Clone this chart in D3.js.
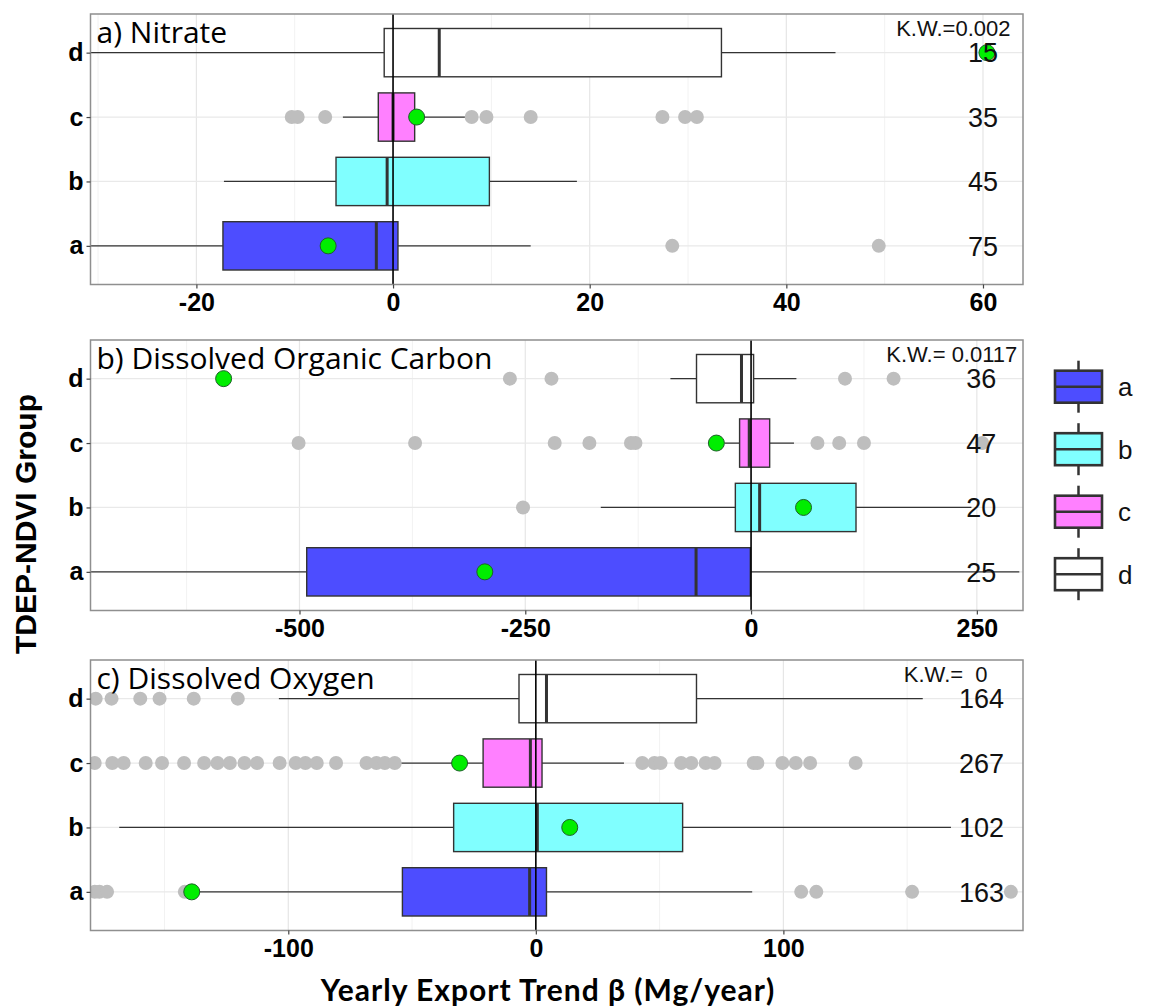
<!DOCTYPE html>
<html>
<head>
<meta charset="utf-8">
<script src="https://cdn.jsdelivr.net/npm/d3@7"></script>
<style>
  body { margin: 0; background: #fff; }
  svg { display: block; }
  .axis .domain { display: none; }
  .axis .tick line { stroke: #444; stroke-width: 1.2; }
  .axis .tick text { font-family: "Liberation Sans", Arial, sans-serif; font-weight: bold; font-size: 25px; fill: #000; }
</style>
</head>
<body>
<script>
const WIDTH = 1149;
const HEIGHT = 1007;
const PLOT_LEFT = 90.5;
const PLOT_RIGHT = 1023;
const PANEL_HEIGHT = 270.5;

// groups, from bottom row to top row
const groups = ["a", "b", "c", "d"];
const groupFills = ["#4D4DFF", "#80FFFF", "#FF80FF", "#FFFFFF"];

// each box: group, lower whisker, q1, median, q3, upper whisker
const nitrateBoxes = [
    ["a", -35, -17.3, -1.7, 0.5, 14.0],
    ["b", -17.2, -5.8, -0.6, 9.8, 18.7],
    ["c", -5.1, -1.5, 0.0, 2.2, 7.4],
    ["d", -35, -0.9, 4.7, 33.4, 45.0]
];
const nitrateMeans = [["a", -6.6], ["c", 2.4], ["d", 60.4]];
const nitrateOutliers = [
    ["a", 28.4], ["a", 49.4],
    ["c", -10.3], ["c", -9.7], ["c", -6.9], ["c", 8.0], ["c", 9.5], ["c", 14.0],
    ["c", 27.4], ["c", 29.7], ["c", 30.9]
];
const nitrateCounts = [75, 45, 35, 15];

const docBoxes = [
    ["a", -800, -492, -60.9, -0.8, 297],
    ["b", -166.4, -17.4, 9.5, 116.2, 244],
    ["c", -29, -12.7, -2, 20.6, 47.5],
    ["d", -89.3, -60.4, -10.6, 2.8, 50.2]
];
const docMeans = [["a", -294.8], ["b", 58.1], ["c", -38.4], ["d", -584]];
const docOutliers = [
    ["b", -252.5],
    ["c", -501], ["c", -372], ["c", -217.4], ["c", -179], ["c", -133], ["c", -128],
    ["c", 73.5], ["c", 97.6], ["c", 125], ["c", 256],
    ["d", -267], ["d", -221], ["d", 104], ["d", 157.8]
];
const docCounts = [25, 20, 47, 36];

const doBoxes = [
    ["a", -138.8, -53.9, -2.5, 4.3, 87.4],
    ["b", -168.3, -33.2, 0.6, 59.3, 167.7],
    ["c", -56.3, -21.3, -2.2, 2.5, 35.6],
    ["d", -103.8, -6.8, 4.3, 64.9, 156.3]
];
const doMeans = [["a", -139], ["b", 13.7], ["c", -30.8]];
const doOutliers = [
    ["a", -178.2], ["a", -176.3], ["a", -173.2], ["a", -141.8],
    ["a", 107.2], ["a", 113.3], ["a", 152], ["a", 191.9],
    ["c", -178.2], ["c", -171.1], ["c", -166.5], ["c", -157.6], ["c", -151], ["c", -142.1],
    ["c", -134], ["c", -128.6], ["c", -123.6], ["c", -117.7], ["c", -112.6], ["c", -103.5],
    ["c", -97], ["c", -93.1], ["c", -88.5], ["c", -80.7], ["c", -68.4], ["c", -64.4],
    ["c", -61], ["c", -57],
    ["c", 43], ["c", 47.9], ["c", 50.4], ["c", 58.7], ["c", 62.8], ["c", 68.6], ["c", 72.2],
    ["c", 88], ["c", 89.5], ["c", 99.6], ["c", 105], ["c", 110.8], ["c", 129.2],
    ["d", -177.8], ["d", -171.4], ["d", -159.8], ["d", -152], ["d", -138.2], ["d", -120.4]
];
const doCounts = [163, 102, 267, 164];

const panels = [
    {
        title: "a) Nitrate", top: 14, domain: [-30.77, 64.07],
        ticks: [-20, 0, 20, 40, 60], minor: [-30, -10, 10, 30, 50],
        boxes: nitrateBoxes, means: nitrateMeans, outliers: nitrateOutliers,
        counts: nitrateCounts, countX: 60, kw: "K.W.=0.002", kwX: 62.8
    },
    {
        title: "b) Dissolved Organic Carbon", top: 340, domain: [-731.4, 301.1],
        ticks: [-500, -250, 0, 250], minor: [-625, -375, -125, 125],
        boxes: docBoxes, means: docMeans, outliers: docOutliers,
        counts: docCounts, countX: 255, kw: "K.W.= 0.0117", kwX: 294.8
    },
    {
        title: "c) Dissolved Oxygen", top: 660, domain: [-179.9, 196.8],
        ticks: [-100, 0, 100], minor: [-150, -50, 50, 150],
        boxes: doBoxes, means: doMeans, outliers: doOutliers,
        counts: doCounts, countX: 180, kw: "K.W.=  0", kwX: 182.5
    }
];

const fillOf = group => groupFills[groups.indexOf(group)];

const svg = d3.select("body")
    .append("svg")
    .attr("width", WIDTH)
    .attr("height", HEIGHT);

svg.append("rect").attr("width", WIDTH).attr("height", HEIGHT).attr("fill", "#fff");

function drawPanel(panel, index) {
    const top = panel.top;
    const x = d3.scaleLinear().domain(panel.domain).range([PLOT_LEFT, PLOT_RIGHT]);
    const y = d3.scalePoint()
        .domain(groups.slice().reverse())
        .range([top, top + PANEL_HEIGHT])
        .padding(0.6);
    const boxHeight = y.step() * 0.75;

    const clipId = "clip-" + index;
    svg.append("clipPath").attr("id", clipId)
        .append("rect")
        .attr("x", PLOT_LEFT).attr("y", top)
        .attr("width", PLOT_RIGHT - PLOT_LEFT).attr("height", PANEL_HEIGHT);

    const plot = svg.append("g").attr("clip-path", `url(#${clipId})`);

    // grid lines
    plot.selectAll(".minor").data(panel.minor).join("line")
        .attr("x1", d => x(d)).attr("x2", d => x(d))
        .attr("y1", top).attr("y2", top + PANEL_HEIGHT)
        .attr("stroke", "#f2f2f2").attr("stroke-width", 1);
    plot.selectAll(".major").data(panel.ticks).join("line")
        .attr("x1", d => x(d)).attr("x2", d => x(d))
        .attr("y1", top).attr("y2", top + PANEL_HEIGHT)
        .attr("stroke", "#e6e6e6").attr("stroke-width", 1.2);
    plot.selectAll(".hgrid").data(groups).join("line")
        .attr("x1", PLOT_LEFT).attr("x2", PLOT_RIGHT)
        .attr("y1", d => y(d)).attr("y2", d => y(d))
        .attr("stroke", "#e9e9e9").attr("stroke-width", 1.2);

    // boxes
    const box = plot.selectAll(".box").data(panel.boxes).join("g");
    box.append("line")
        .attr("x1", d => x(d[1])).attr("x2", d => x(d[2]))
        .attr("y1", d => y(d[0])).attr("y2", d => y(d[0]))
        .attr("stroke", "#333").attr("stroke-width", 1.3);
    box.append("line")
        .attr("x1", d => x(d[4])).attr("x2", d => x(d[5]))
        .attr("y1", d => y(d[0])).attr("y2", d => y(d[0]))
        .attr("stroke", "#333").attr("stroke-width", 1.3);
    box.append("rect")
        .attr("x", d => x(d[2]))
        .attr("width", d => x(d[4]) - x(d[2]))
        .attr("y", d => y(d[0]) - boxHeight / 2)
        .attr("height", boxHeight)
        .attr("fill", d => fillOf(d[0]))
        .attr("stroke", "#333").attr("stroke-width", 1.4);
    box.append("line")
        .attr("x1", d => x(d[3])).attr("x2", d => x(d[3]))
        .attr("y1", d => y(d[0]) - boxHeight / 2).attr("y2", d => y(d[0]) + boxHeight / 2)
        .attr("stroke", "#333").attr("stroke-width", 3);

    plot.selectAll(".outlier").data(panel.outliers).join("circle")
        .attr("cx", d => x(d[1])).attr("cy", d => y(d[0]))
        .attr("r", 7)
        .attr("fill", "#bebebe");

    // zero reference line
    plot.append("line")
        .attr("x1", x(0)).attr("x2", x(0))
        .attr("y1", top).attr("y2", top + PANEL_HEIGHT)
        .attr("stroke", "#000").attr("stroke-width", 1.6);

    plot.selectAll(".mean").data(panel.means).join("circle")
        .attr("cx", d => x(d[1])).attr("cy", d => y(d[0]))
        .attr("r", 8)
        .attr("fill", "#00ee00")
        .attr("stroke", "#1f5f2a").attr("stroke-width", 1);

    // sample sizes
    svg.append("g").selectAll("text").data(panel.counts).join("text")
        .attr("x", x(panel.countX))
        .attr("y", (d, i) => y(groups[i]))
        .attr("dy", "0.36em")
        .attr("text-anchor", "middle")
        .style("font-family", "'Liberation Sans', Arial, sans-serif")
        .style("font-size", "27px")
        .attr("fill", "#111")
        .text(d => d);

    svg.append("text")
        .attr("x", x(panel.kwX))
        .attr("y", top + 21.5)
        .attr("text-anchor", "end")
        .style("font-family", "'Liberation Sans', Arial, sans-serif")
        .style("font-size", "22px")
        .attr("fill", "#111")
        .style("white-space", "pre")
        .text(panel.kw);

    svg.append("text")
        .attr("x", 96.5)
        .attr("y", top + 28.5)
        .style("font-family", "'Open Sans', 'Noto Sans', sans-serif")
        .style("font-size", "30px")
        .attr("fill", "#000")
        .text(panel.title);

    // panel border
    svg.append("rect")
        .attr("x", PLOT_LEFT).attr("y", top)
        .attr("width", PLOT_RIGHT - PLOT_LEFT).attr("height", PANEL_HEIGHT)
        .attr("fill", "none")
        .attr("stroke", "#8f8f8f").attr("stroke-width", 1.5);

    svg.append("g")
        .attr("class", "axis")
        .attr("transform", `translate(0,${top + PANEL_HEIGHT})`)
        .call(d3.axisBottom(x).tickValues(panel.ticks).tickSize(4).tickPadding(5).tickFormat(d => String(d)));

    svg.append("g")
        .attr("class", "axis")
        .attr("transform", `translate(${PLOT_LEFT},0)`)
        .call(d3.axisLeft(y).tickSize(4).tickPadding(3));
}

panels.forEach(drawPanel);

// axis titles
svg.append("text")
    .attr("transform", "translate(36,524) rotate(-90)")
    .attr("text-anchor", "middle")
    .style("font-family", "'Liberation Sans', Arial, sans-serif")
    .style("font-weight", "bold")
    .style("font-size", "30px")
    .text("TDEP-NDVI Group");

svg.append("text")
    .attr("x", 548)
    .attr("y", 1001)
    .attr("text-anchor", "middle")
    .style("font-family", "Lato, 'Open Sans', sans-serif")
    .style("font-weight", "bold")
    .style("font-size", "30px")
    .style("letter-spacing", "1px")
    .text("Yearly Export Trend β (Mg/year)");

// legend
const LEGEND_X = 1055;
const LEGEND_KEY_W = 47;
const LEGEND_KEY_H = 32;
const LEGEND_TOP = 386.7;
const LEGEND_STEP = 62.5;

const legend = svg.append("g").selectAll("g").data(groups).join("g")
    .attr("transform", (d, i) => `translate(${LEGEND_X},${LEGEND_TOP + i * LEGEND_STEP})`);
legend.append("line")
    .attr("x1", LEGEND_KEY_W / 2).attr("x2", LEGEND_KEY_W / 2)
    .attr("y1", -26).attr("y2", 26)
    .attr("stroke", "#333").attr("stroke-width", 2.5);
legend.append("rect")
    .attr("y", -LEGEND_KEY_H / 2)
    .attr("width", LEGEND_KEY_W).attr("height", LEGEND_KEY_H)
    .attr("fill", (d, i) => groupFills[i])
    .attr("stroke", "#333").attr("stroke-width", 2.6);
legend.append("line")
    .attr("x1", 0).attr("x2", LEGEND_KEY_W)
    .attr("stroke", "#333").attr("stroke-width", 2.6);
legend.append("text")
    .attr("x", 63)
    .attr("dy", "0.36em")
    .style("font-family", "'Liberation Sans', Arial, sans-serif")
    .style("font-size", "26px")
    .attr("fill", "#111")
    .text(d => d);
</script>
</body>
</html>
